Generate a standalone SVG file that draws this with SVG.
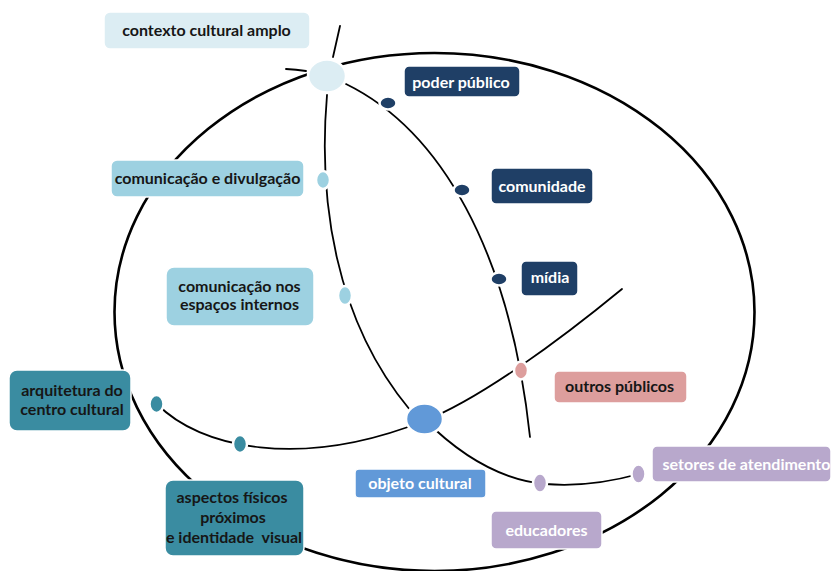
<svg xmlns="http://www.w3.org/2000/svg" width="832" height="571" viewBox="0 0 832 571">
<style>
.ln{fill:none;stroke:#000;stroke-width:1.8;stroke-linecap:round}
.big{fill:none;stroke:#000;stroke-width:2.6}
.dot{stroke:#fff;stroke-width:2.5}
.box{stroke:#fff;stroke-width:1.5}
.t{font-family:Lato,"Liberation Sans",sans-serif;font-weight:700;font-size:16px;text-anchor:middle}
.dk{fill:#161616}
.wh{fill:#fff}
</style>
<rect width="832" height="571" fill="#fff"/>
<g id="connectors">
<ellipse class="big" cx="434.5" cy="312" rx="320" ry="259"/>
<line class="ln" x1="340" y1="26" x2="333" y2="57"/>
<path class="ln" d="M286,69 Q296,69.5 306,71"/>
<path class="ln" d="M327,95 C318,200 335,320 410,410"/>
<path class="ln" d="M346,84 C440,130 510,250 530,437"/>
<path class="ln" d="M157,404 C200,448 300,470 424,421 C480,399 560,340 622,289"/>
<path class="ln" d="M424,419 C460,455 500,480 545,484 C580,487 610,482 639,474"/>
</g>
<g id="dots">
<ellipse class="dot" cx="327" cy="76" rx="19" ry="16.5" fill="#dcedf3"/>
<ellipse class="dot" cx="388" cy="103" rx="8.5" ry="6.5" fill="#1f3f66"/>
<ellipse class="dot" cx="462" cy="190" rx="8.5" ry="6.5" fill="#1f3f66"/>
<ellipse class="dot" cx="499" cy="279" rx="8.5" ry="6.5" fill="#1f3f66"/>
<ellipse class="dot" cx="323" cy="180" rx="7" ry="9" fill="#9dd1e1"/>
<ellipse class="dot" cx="345" cy="295.5" rx="7" ry="9.5" fill="#9dd1e1"/>
<ellipse class="dot" cx="156.5" cy="404" rx="7" ry="9" fill="#3a8ca1"/>
<ellipse class="dot" cx="240" cy="444" rx="7" ry="9" fill="#3a8ca1"/>
<ellipse class="dot" cx="521" cy="370.5" rx="7" ry="9" fill="#dd9e9d"/>
<ellipse class="dot" cx="424.5" cy="419" rx="18.5" ry="15.5" fill="#6199d8"/>
<ellipse class="dot" cx="540" cy="483" rx="7" ry="9.5" fill="#b8a8cc"/>
<ellipse class="dot" cx="638.5" cy="474" rx="7" ry="9.5" fill="#b8a8cc"/>
</g>
<g id="n-contexto">
<rect class="box" x="104" y="12" width="206" height="37" rx="6" fill="#dcedf3"/>
<text class="t dk" x="206.5" y="36">contexto cultural amplo</text>
</g>
<g id="n-poder">
<rect class="box" x="404" y="66" width="116" height="31" rx="5" fill="#1f3f66"/>
<text class="t wh" x="461" y="88">poder público</text>
</g>
<g id="n-comunidade">
<rect class="box" x="491" y="168" width="102" height="36" rx="5" fill="#1f3f66"/>
<text class="t wh" x="542" y="192">comunidade</text>
</g>
<g id="n-midia">
<rect class="box" x="521" y="261" width="57" height="35" rx="5" fill="#1f3f66"/>
<text class="t wh" x="550" y="283">mídia</text>
</g>
<g id="n-divulgacao">
<rect class="box" x="111" y="160" width="193" height="37" rx="6" fill="#9dd1e1"/>
<text class="t dk" x="207.5" y="184">comunicação e divulgação</text>
</g>
<g id="n-espacos">
<rect class="box" x="166" y="267" width="148" height="59" rx="8" fill="#9dd1e1"/>
<text class="t dk" x="239.5" y="292">comunicação nos</text>
<text class="t dk" x="239.5" y="310">espaços internos</text>
</g>
<g id="n-arquitetura">
<rect class="box" x="9" y="370" width="122" height="61" rx="8" fill="#3a8ca1"/>
<text class="t dk" x="72" y="396">arquitetura do</text>
<text class="t dk" x="72" y="415">centro cultural</text>
</g>
<g id="n-aspectos">
<rect class="box" x="165" y="480" width="139" height="76" rx="8" fill="#3a8ca1"/>
<text class="t dk" x="232" y="503">aspectos físicos</text>
<text class="t dk" x="233" y="523">próximos</text>
<text class="t dk" x="234" y="543" xml:space="preserve">e identidade  visual</text>
</g>
<g id="n-objeto">
<rect class="box" x="355" y="469" width="131" height="29" rx="4" fill="#6199d8"/>
<text class="t wh" x="420" y="489">objeto cultural</text>
</g>
<g id="n-outros">
<rect class="box" x="554" y="371" width="133" height="32" rx="5" fill="#dd9e9d"/>
<text class="t dk" x="619.5" y="392">outros públicos</text>
</g>
<g id="n-setores">
<rect class="box" x="652" y="446" width="179" height="36" rx="5" fill="#b8a8cc"/>
<text class="t wh" x="746.5" y="470">setores de atendimento</text>
</g>
<g id="n-educadores">
<rect class="box" x="491" y="511" width="111" height="38" rx="5" fill="#b8a8cc"/>
<text class="t wh" x="546.5" y="536">educadores</text>
</g>
</svg>
